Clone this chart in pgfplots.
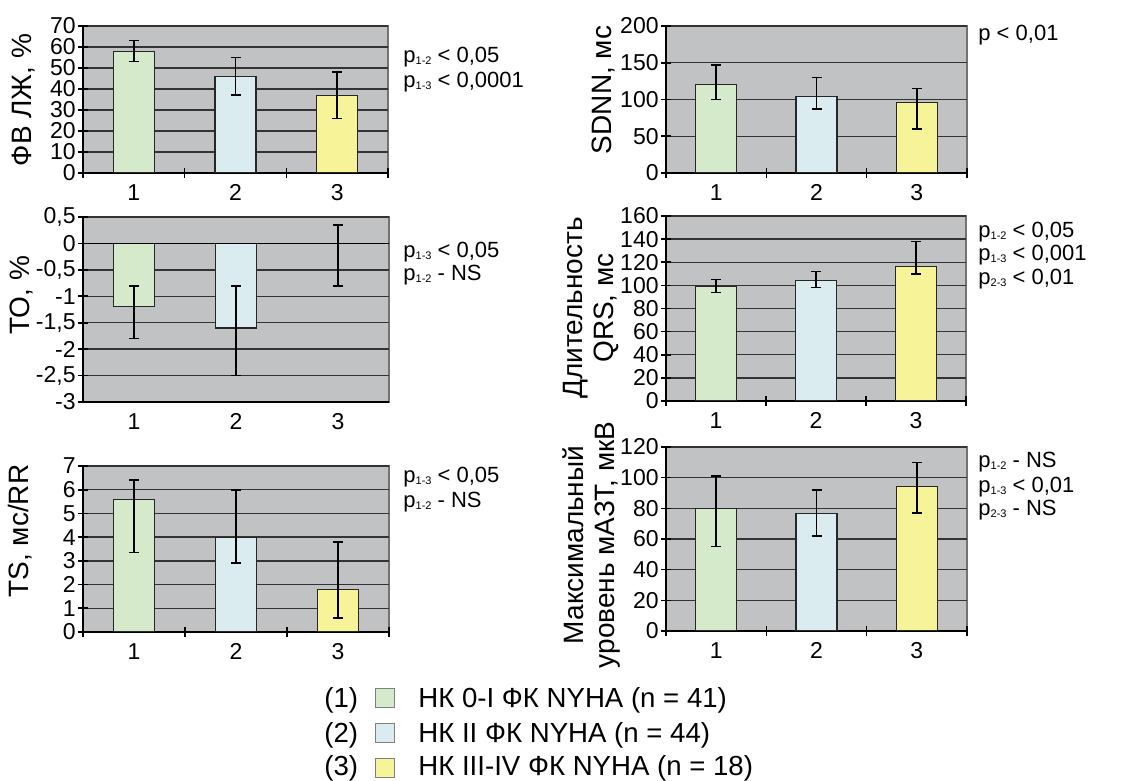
\documentclass[border=0pt]{standalone}
\usepackage{fontspec}
\setmainfont{Liberation Sans}
\usepackage{pgfplots}
\pgfplotsset{compat=1.18}
\definecolor{bg}{RGB}{192,194,195}
\definecolor{cA}{RGB}{212,234,203}
\definecolor{cB}{RGB}{218,236,240}
\definecolor{cC}{RGB}{247,243,153}
\newcommand\tfont{\fontsize{11.5}{13}\selectfont}
\newcommand\lfont{\fontsize{14}{15.5}\selectfont}
\newcommand\pfont{\fontsize{11}{13}\selectfont}
\newcommand\gfont{\fontsize{13.8}{16}\selectfont}
\newcommand\sub[1]{\raisebox{-0.6pt}{\fontsize{5.5}{6}\selectfont #1}}
\pgfplotsset{
  panel/.style={
    anchor=south west, scale only axis,
    xmin=0.5, xmax=3.5,
    xtick={1,2,3},
    major x tick style={draw=none},
    minor xtick={0.5,1.5,2.5,3.5},
    minor tick length=5pt,
    major tick length=5pt,
    tick align=center,
    axis lines=left,
    axis line style={-, black, line width=0.8pt},
    axis background/.style={fill=bg, draw=black!55, line width=0.6pt},
    ymajorgrids,
    grid style={black!80, line width=0.7pt},
    tick style={black, line width=0.8pt},
    ticklabel style={font=\tfont},
    yticklabel style={inner sep=1pt},
    xticklabel style={inner sep=1pt, yshift=-2pt},
    /pgf/number format/use comma,
    /pgf/number format/assume math mode=true,
  },
  bars/.style={
    error bars/y dir=both, error bars/y explicit,
    error bars/error bar style={draw=black, line width=0.8pt},
    error bars/error mark options={draw=black, rotate=90, mark size=2.5pt, line width=0.8pt},
    ybar, bar width=20.5pt, bar shift=0pt, draw=black!85, line width=0.6pt},
}
\begin{document}
\begin{tikzpicture}
\path[use as bounding box] (0,0) rectangle (570pt,390.5pt);

% Panel 1: FV LZh
\begin{axis}[panel, at={(41.5pt,304pt)}, width=152.5pt, height=73.5pt,
  ymin=0, ymax=70, ytick={0,10,...,70}]
\addplot[bars, fill=cA] coordinates {(1,58) +- (0,5)};
\addplot[bars, fill=cB] coordinates {(2,46) +- (0,9)};
\addplot[bars, fill=cC] coordinates {(3,37) +- (0,11)};
\end{axis}

% Panel 2: SDNN
\begin{axis}[panel, at={(333pt,304pt)}, width=150.5pt, height=73.5pt,
  ymin=0, ymax=200, ytick={0,50,...,200}]
\addplot[bars, fill=cA] coordinates {(1,120) += (0,27) -= (0,20)};
\addplot[bars, fill=cB] coordinates {(2,104) += (0,26) -= (0,17)};
\addplot[bars, fill=cC] coordinates {(3,96) += (0,19) -= (0,36)};
\end{axis}

% Panel 3: TO
\begin{axis}[panel, at={(41.5pt,189.5pt)}, width=153pt, height=92.5pt,
  ymin=-3, ymax=0.5, ytick={-3,-2.5,...,0.5}, minor xtick={}]
\addplot[bars, fill=cA] coordinates {(1,-1.2) += (0,0.4) -= (0,0.6)};
\addplot[bars, fill=cB] coordinates {(2,-1.6) += (0,0.8) -= (0,0.9)};
\addplot[bars, draw=none, fill=none] coordinates {(3,-0.2) += (0,0.55) -= (0,0.6)};
\draw[black, line width=0.8pt] (axis cs:0.5,0) -- (axis cs:3.5,0);
\draw[black, line width=0.8pt] (axis cs:1.5,0) ++(0,2.5pt) -- ++(0,-5pt);
\draw[black, line width=0.8pt] (axis cs:2.5,0) ++(0,2.5pt) -- ++(0,-5pt);
\draw[black, line width=0.8pt] (axis cs:3.5,0) ++(0,2.5pt) -- ++(0,-5pt);
\end{axis}

% Panel 4: QRS
\begin{axis}[panel, at={(333pt,190pt)}, width=150pt, height=92.5pt,
  ymin=0, ymax=160, ytick={0,20,...,160}]
\addplot[bars, fill=cA] coordinates {(1,99) += (0,6) -= (0,5)};
\addplot[bars, fill=cB] coordinates {(2,104) += (0,8) -= (0,6)};
\addplot[bars, fill=cC] coordinates {(3,116) += (0,22) -= (0,6)};
\end{axis}

% Panel 5: TS
\begin{axis}[panel, at={(41.5pt,74.5pt)}, width=153pt, height=83pt,
  ymin=0, ymax=7, ytick={0,1,...,7}]
\addplot[bars, fill=cA] coordinates {(1,5.6) += (0,0.8) -= (0,2.25)};
\addplot[bars, fill=cB] coordinates {(2,4.0) += (0,2.0) -= (0,1.1)};
\addplot[bars, fill=cC] coordinates {(3,1.8) += (0,2.0) -= (0,1.2)};
\end{axis}

% Panel 6: max level
\begin{axis}[panel, at={(333pt,75pt)}, width=150.5pt, height=92pt,
  ymin=0, ymax=120, ytick={0,20,...,120}]
\addplot[bars, fill=cA] coordinates {(1,80) += (0,21) -= (0,25)};
\addplot[bars, fill=cB] coordinates {(2,76.5) += (0,15.5) -= (0,14.5)};
\addplot[bars, fill=cC] coordinates {(3,94) += (0,16) -= (0,17)};
\end{axis}

% y labels
\node[rotate=90, font=\lfont] at (12pt,340.5pt) {ФВ ЛЖ, \%};
\node[rotate=90, font=\lfont] at (302pt,345.5pt) {SDNN, мс};
\node[rotate=90, font=\lfont] at (11pt,243pt) {ТО, \%};
\node[rotate=90, font=\lfont, align=center] at (295.75pt,236.5pt) {Длительность\\QRS, мс};
\node[rotate=90, font=\lfont] at (10pt,125pt) {TS, мс/RR};
\node[rotate=90, font=\lfont, align=center] at (295.75pt,118pt) {Максимальный\\уровень мАЗТ, мкВ};

% p-values
\node[anchor=base west, font=\pfont, inner sep=0pt] at (201.5pt,359pt) {p\sub{1-2} < 0,05};
\node[anchor=base west, font=\pfont, inner sep=0pt] at (201.5pt,346.5pt) {p\sub{1-3} < 0,0001};
\node[anchor=base west, font=\pfont, inner sep=0pt] at (489pt,370pt) {p < 0,01};
\node[anchor=base west, font=\pfont, inner sep=0pt] at (201.5pt,261.5pt) {p\sub{1-3} < 0,05};
\node[anchor=base west, font=\pfont, inner sep=0pt] at (201.5pt,250pt) {p\sub{1-2} - NS};
\node[anchor=base west, font=\pfont, inner sep=0pt] at (489pt,271.5pt) {p\sub{1-2} < 0,05};
\node[anchor=base west, font=\pfont, inner sep=0pt] at (489pt,260pt) {p\sub{1-3} < 0,001};
\node[anchor=base west, font=\pfont, inner sep=0pt] at (489pt,248pt) {p\sub{2-3} < 0,01};
\node[anchor=base west, font=\pfont, inner sep=0pt] at (201.5pt,149pt) {p\sub{1-3} < 0,05};
\node[anchor=base west, font=\pfont, inner sep=0pt] at (201.5pt,136.5pt) {p\sub{1-2} - NS};
\node[anchor=base west, font=\pfont, inner sep=0pt] at (489pt,156.5pt) {p\sub{1-2} - NS};
\node[anchor=base west, font=\pfont, inner sep=0pt] at (489pt,144pt) {p\sub{1-3} < 0,01};
\node[anchor=base west, font=\pfont, inner sep=0pt] at (489pt,132.5pt) {p\sub{2-3} - NS};

% legend
\node[anchor=base west, font=\gfont, inner sep=0pt] at (162pt,36.5pt) {(1)};
\draw[fill=cA, draw=black!50, line width=0.5pt] (187.5pt,36.5pt) rectangle (197pt,46pt);
\node[anchor=base west, font=\gfont, inner sep=0pt] at (209pt,36.5pt) {НК 0-I ФК NYHA (n = 41)};
\node[anchor=base west, font=\gfont, inner sep=0pt] at (162pt,19pt) {(2)};
\draw[fill=cB, draw=black!50, line width=0.5pt] (187.5pt,19pt) rectangle (197pt,28.5pt);
\node[anchor=base west, font=\gfont, inner sep=0pt] at (209pt,19pt) {НК II ФК NYHA (n = 44)};
\node[anchor=base west, font=\gfont, inner sep=0pt] at (162pt,2.5pt) {(3)};
\draw[fill=cC, draw=black!50, line width=0.5pt] (187.5pt,1.5pt) rectangle (197pt,11pt);
\node[anchor=base west, font=\gfont, inner sep=0pt] at (209pt,2.5pt) {НК III-IV ФК NYHA (n = 18)};
\end{tikzpicture}
\end{document}
